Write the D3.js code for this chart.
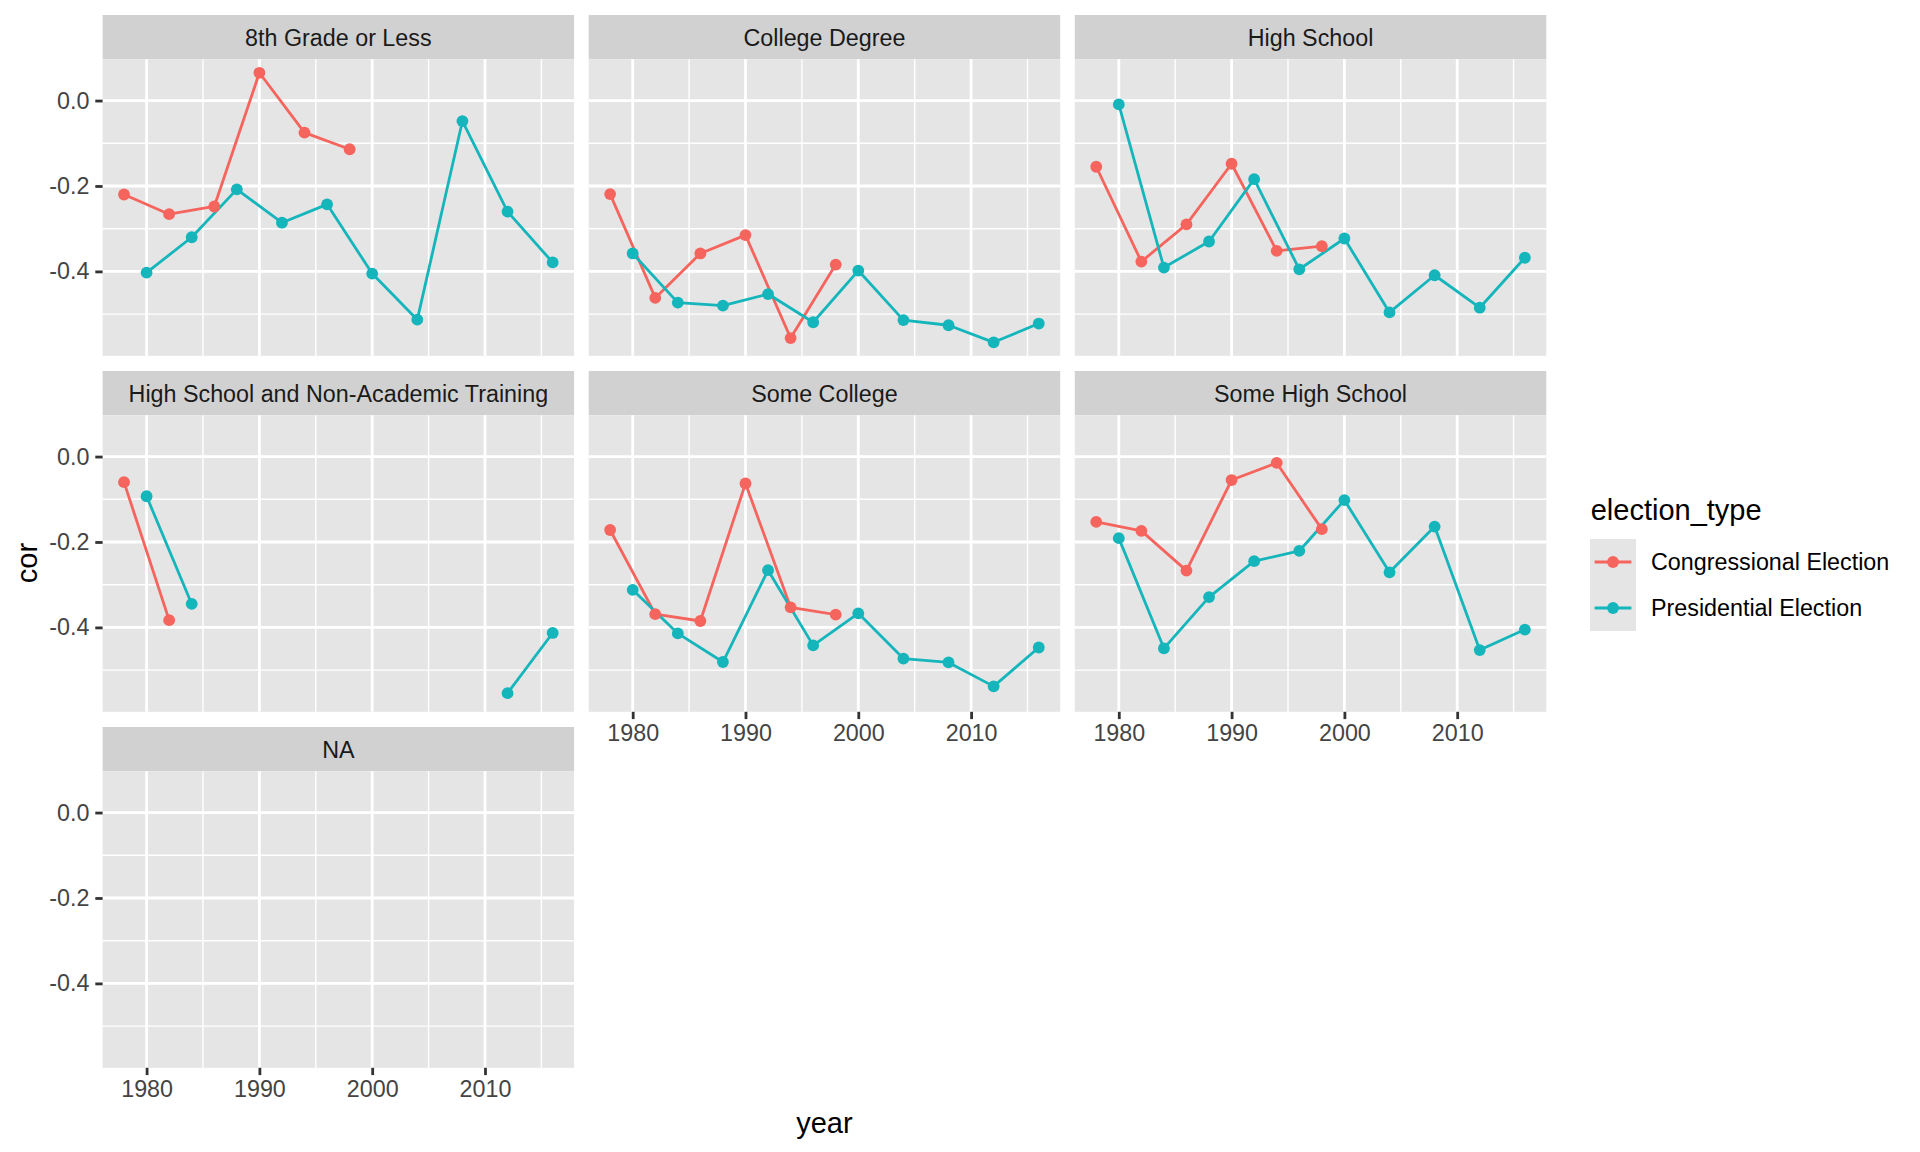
<!DOCTYPE html>
<html><head><meta charset="utf-8">
<script src="https://cdn.jsdelivr.net/npm/d3@7"></script>
<style>body{margin:0;background:#fff} svg{display:block}</style>
</head><body><svg id="chart" width="1920" height="1152"></svg>
<script>
// ---------------- data ----------------
const categories = ["8th Grade or Less","College Degree","High School","High School and Non-Academic Training","Some College","Some High School","NA"];
const seriesNames = ["Congressional Election","Presidential Election"];
const congressionalYears = [1978,1982,1986,1990,1994,1998];
const presidentialYears = [1980,1984,1988,1992,1996,2000,2004,2008,2012,2016];

const cong8thGrade   = [-0.220,-0.266,-0.248, 0.065,-0.075,-0.114];
const pres8thGrade   = [-0.403,-0.320,-0.208,-0.286,-0.243,-0.405,-0.513,-0.048,-0.260,-0.379];
const congCollege    = [-0.219,-0.462,-0.358,-0.315,-0.556,-0.384];
const presCollege    = [-0.358,-0.473,-0.480,-0.453,-0.519,-0.398,-0.514,-0.526,-0.566,-0.522];
const congHighSchool = [-0.155,-0.377,-0.290,-0.148,-0.352,-0.341];
const presHighSchool = [-0.009,-0.391,-0.330,-0.184,-0.395,-0.323,-0.496,-0.409,-0.485,-0.368];
const congHSNonAcad  = [-0.060,-0.383,null,null,null,null];
const presHSNonAcad  = [-0.093,-0.345,null,null,null,null,null,null,-0.554,-0.413];
const congSomeCollege= [-0.172,-0.369,-0.385,-0.063,-0.353,-0.370];
const presSomeCollege= [-0.312,-0.414,-0.481,-0.266,-0.442,-0.367,-0.473,-0.482,-0.538,-0.447];
const congSomeHS     = [-0.153,-0.174,-0.267,-0.055,-0.015,-0.170];
const presSomeHS     = [-0.191,-0.449,-0.329,-0.245,-0.221,-0.102,-0.271,-0.164,-0.453,-0.405];
const congNA         = [null,null,null,null,null,null];
const presNA         = [null,null,null,null,null,null,null,null,null,null];

const xTicks = [1980,1990,2000,2010];
const xTickLabels = ["1980","1990","2000","2010"];
const xMinorTicks = [1985,1995,2005,2015];
const yTicks = [0.0,-0.2,-0.4];
const yTickLabels = ["0.0","-0.2","-0.4"];
const yMinorTicks = [-0.1,-0.3,-0.5];

const congValues = [cong8thGrade,congCollege,congHighSchool,congHSNonAcad,congSomeCollege,congSomeHS,congNA];
const presValues = [pres8thGrade,presCollege,presHighSchool,presHSNonAcad,presSomeCollege,presSomeHS,presNA];

// ---------------- style / layout ----------------
const FONT = "'Liberation Sans', Arial, Helvetica, sans-serif";
const colors = ["#F5645D","#14B5BB"];
const panelBg = "#E5E5E5", stripBg = "#D1D1D1";
const plotLeft = 102.6, panelW = 471.5, colGap = 14.6;
const rowTop0 = 15, rowStep = 356, stripH = 44.3, panelH = 296.5;
const lineW = 2.8, ptR = 5.9;

const panels = categories.map((c,i)=>({
  name:c,
  series:[
    congressionalYears.map((yr,j)=>({year:yr, cor:congValues[i][j]})),
    presidentialYears.map((yr,j)=>({year:yr, cor:presValues[i][j]}))
  ]
}));

const allYears = congressionalYears.concat(presidentialYears);
const allVals = congValues.flat().concat(presValues.flat()).filter(v=>v!==null);
const xe = d3.extent(allYears), ye = d3.extent(allVals);
const xpad = (xe[1]-xe[0])*0.05, ypad = (ye[1]-ye[0])*0.05;
const x = d3.scaleLinear().domain([xe[0]-xpad, xe[1]+xpad]).range([0,panelW]);
const y = d3.scaleLinear().domain([ye[0]-ypad, ye[1]+ypad]).range([panelH,0]);

const svg = d3.select("#chart");
svg.append("rect").attr("width",1920).attr("height",1152).attr("fill","#fff");

const line = d3.line().defined(d=>d.cor!==null).x(d=>x(d.year)).y(d=>y(d.cor));

panels.forEach((p,i)=>{
  const col = i%3, row = Math.floor(i/3);
  const g = svg.append("g").attr("transform",`translate(${plotLeft+col*(panelW+colGap)},${rowTop0+row*rowStep})`);
  g.append("rect").attr("width",panelW).attr("height",stripH).attr("fill",stripBg);
  g.append("text").attr("x",panelW/2).attr("y",stripH/2+1).attr("text-anchor","middle")
    .attr("dominant-baseline","central").attr("font-family",FONT).attr("font-size",23.3)
    .attr("fill","#1A1A1A").text(p.name);
  const pg = g.append("g").attr("transform",`translate(0,${stripH})`);
  pg.append("rect").attr("width",panelW).attr("height",panelH).attr("fill",panelBg);
  // minor grid
  pg.selectAll(".ymin").data(yMinorTicks.filter(v=>v>=y.domain()[0])).join("line")
    .attr("x1",0).attr("x2",panelW).attr("y1",d=>y(d)).attr("y2",d=>y(d))
    .attr("stroke","#fff").attr("stroke-width",lineW/2);
  pg.selectAll(".xmin").data(xMinorTicks.filter(v=>v<=x.domain()[1])).join("line")
    .attr("y1",0).attr("y2",panelH).attr("x1",d=>x(d)).attr("x2",d=>x(d))
    .attr("stroke","#fff").attr("stroke-width",lineW/2);
  // major grid
  pg.selectAll(".ymaj").data(yTicks).join("line")
    .attr("x1",0).attr("x2",panelW).attr("y1",d=>y(d)).attr("y2",d=>y(d))
    .attr("stroke","#fff").attr("stroke-width",lineW);
  pg.selectAll(".xmaj").data(xTicks).join("line")
    .attr("y1",0).attr("y2",panelH).attr("x1",d=>x(d)).attr("x2",d=>x(d))
    .attr("stroke","#fff").attr("stroke-width",lineW);
  // data
  p.series.forEach((s,k)=>{
    pg.append("path").datum(s).attr("d",line).attr("fill","none")
      .attr("stroke",colors[k]).attr("stroke-width",lineW).attr("stroke-linejoin","round");
  });
  p.series.forEach((s,k)=>{
    pg.selectAll(null).data(s.filter(d=>d.cor!==null)).join("circle")
      .attr("cx",d=>x(d.year)).attr("cy",d=>y(d.cor)).attr("r",ptR).attr("fill",colors[k]);
  });
  // axes
  if(col===0){
    const ax = pg.append("g").call(d3.axisLeft(y).tickValues(yTicks).tickSize(7.3).tickPadding(5.8)
      .tickFormat((d,j)=>yTickLabels[j]));
    styleAxis(ax);
  }
  if(row===2 || (row===1 && col>0)){
    const ax = pg.append("g").attr("transform",`translate(0,${panelH})`)
      .call(d3.axisBottom(x).tickValues(xTicks).tickSize(7.3).tickPadding(5.8)
      .tickFormat((d,j)=>xTickLabels[j]));
    styleAxis(ax);
  }
});

function styleAxis(ax){
  ax.select(".domain").remove();
  ax.selectAll(".tick line").attr("stroke","#333333").attr("stroke-width",lineW);
  ax.selectAll(".tick text").attr("font-family",FONT).attr("font-size",23.3).attr("fill","#444444");
}

// axis titles
svg.append("text").attr("x",plotLeft+(3*panelW+2*colGap)/2).attr("y",1123).attr("text-anchor","middle")
  .attr("dominant-baseline","central").attr("font-family",FONT).attr("font-size",29).attr("fill","#000").text("year");
svg.append("text").attr("transform","translate(26.5,563) rotate(-90)").attr("text-anchor","middle")
  .attr("dominant-baseline","central").attr("font-family",FONT).attr("font-size",29).attr("fill","#000").text("cor");

// legend
const lg = svg.append("g").attr("transform","translate(1590,0)");
lg.append("text").attr("x",0.7).attr("y",520).attr("font-family",FONT).attr("font-size",29).attr("fill","#000").text("election_type");
seriesNames.forEach((nm,k)=>{
  const ky = 539 + k*46;
  lg.append("rect").attr("x",0).attr("y",ky).attr("width",46).attr("height",46).attr("fill",panelBg);
  lg.append("line").attr("x1",4.6).attr("x2",41.4).attr("y1",ky+23).attr("y2",ky+23)
    .attr("stroke",colors[k]).attr("stroke-width",lineW);
  lg.append("circle").attr("cx",23).attr("cy",ky+23).attr("r",ptR).attr("fill",colors[k]);
  lg.append("text").attr("x",61).attr("y",ky+23).attr("dominant-baseline","central")
    .attr("font-family",FONT).attr("font-size",23.3).attr("fill","#000").text(nm);
});
</script></body></html>
